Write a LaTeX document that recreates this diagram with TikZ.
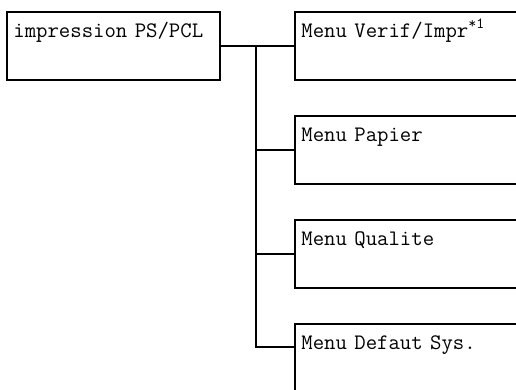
\documentclass[tikz,border=0pt]{standalone}
\usetikzlibrary{positioning}

\tikzset{
  menubox/.style={draw, line width=1.5pt, anchor=north west, align=left,
    inner xsep=4.8pt, inner ysep=0pt, text height=19pt, text depth=32pt},
}

\begin{document}
\begin{tikzpicture}[x=0.75pt, y=-0.75pt, font=\ttfamily\fontsize{16.6}{19}\selectfont, line width=1.5pt]
  \clip (0,0) rectangle (516,389);
  % root of the menu tree
  \node[menubox, text width=150pt] (root) at (6,11) {impression PS/PCL};
  % sub menus, cut off at the right edge
  \node[menubox, text width=180pt] (verif)  at (294,11)  {Menu Verif/Impr\textsuperscript{*1}};
  \node[menubox, text width=180pt] (papier) at (294,115) {Menu Papier};
  \node[menubox, text width=180pt] (qual)   at (294,219) {Menu Qualite};
  \node[menubox, text width=180pt] (defaut) at (294,323) {Menu Defaut Sys.};
  % connectors
  \coordinate (bus) at (256,45);
  \draw (root.east) -- (verif.west);
  \draw (bus) |- (papier.west);
  \draw (bus) |- (qual.west);
  \draw (bus) |- ([yshift=-18pt]defaut.north west);
\end{tikzpicture}
\end{document}
